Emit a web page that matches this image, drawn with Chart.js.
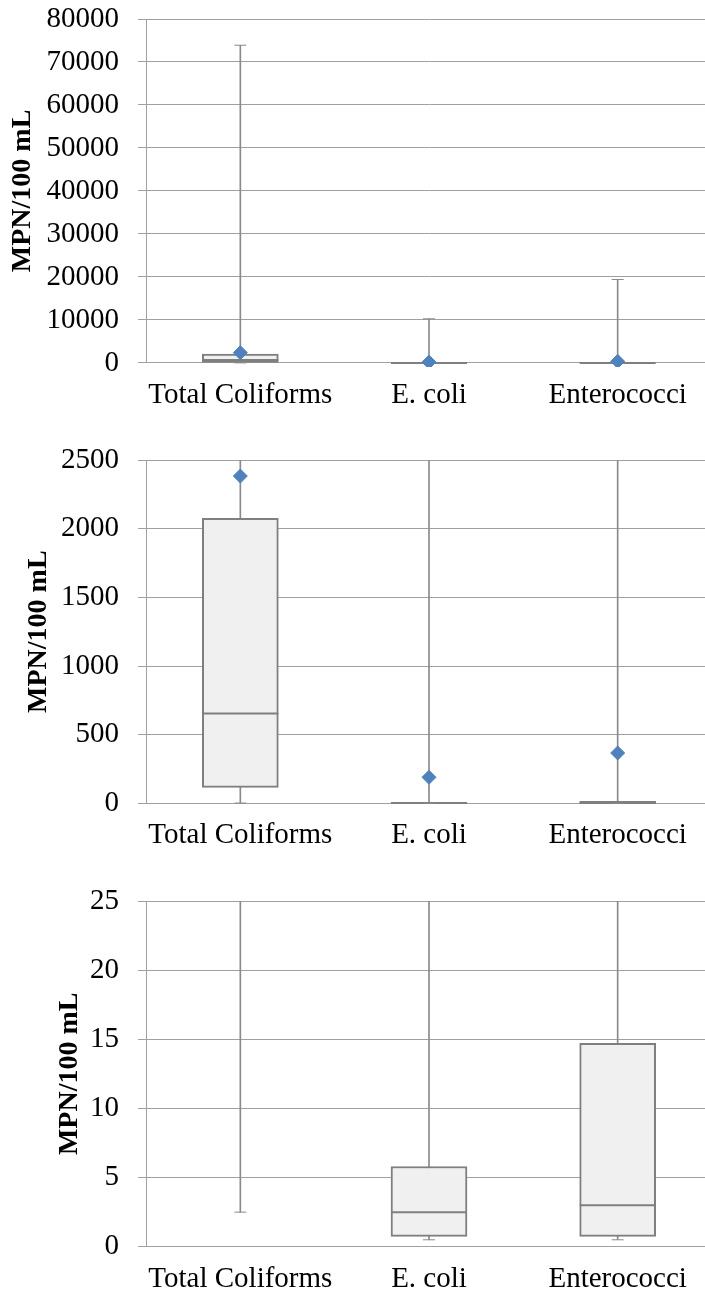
<!DOCTYPE html>
<html lang="en">
<head>
  <meta charset="UTF-8">
  <title>MPN/100 mL box plots</title>
  <style>
    html, body {
      margin: 0;
      padding: 0;
      background: #ffffff;
      overflow: hidden;
    }
    .panel {
      position: absolute;
      left: 0;
      width: 712px;
      height: 441px;
    }
  </style>
</head>
<body>
  <div class="panel" style="top:0px"><canvas id="chart0" width="712" height="441"></canvas></div>
  <div class="panel" style="top:441px"><canvas id="chart1" width="712" height="441"></canvas></div>
  <div class="panel" style="top:882px"><canvas id="chart2" width="712" height="441"></canvas></div>

  <script src="https://cdn.jsdelivr.net/npm/chart.js"></script>
  <script>
    // box plot values
    const categories = ['Total Coliforms', 'E. coli', 'Enterococci'];
    const minVals = [2.5, 0.5, 0.5];
    const q1Vals = [117, 0.75, 0.75];
    const medianVals = [655, 2.5, 3.0];
    const q3Vals = [2075, 5.8, 14.7];
    const maxVals = [73900, 10260, 19400];
    const meanVals = [2383, 190, 367];

    // same data shown at three zoom levels
    const yMaxes = [80000, 2500, 25];
    const ySteps = [10000, 500, 5];

    const AXIS_X = 146; // where the y axis line sits
    const serif = '"Liberation Serif", "Times New Roman", serif';

    Chart.defaults.font.family = serif;
    Chart.defaults.color = '#000';

    function drawPanel(canvasId, yMax, yStep, padLeft, padBottom) {
      const pointClip = { left: 40, right: 40, top: 0, bottom: 4 };

      new Chart(document.getElementById(canvasId), {
        type: 'bar',
        data: {
          labels: categories,
          datasets: [
            {
              // whisker from min to max
              data: categories.map((c, i) => [minVals[i], maxVals[i]]),
              backgroundColor: '#8a8a8a',
              barThickness: 1,
              grouped: false,
              order: 5,
              clip: 0
            },
            {
              // box q1..q3
              data: categories.map((c, i) => [q1Vals[i], q3Vals[i]]),
              backgroundColor: '#f0f0f0',
              borderColor: '#7f7f7f',
              borderWidth: 2,
              borderSkipped: false,
              barThickness: 76,
              grouped: false,
              order: 4,
              clip: 0
            },
            {
              type: 'line',
              data: medianVals,
              showLine: false,
              pointStyle: 'line',
              pointRadius: 38,
              pointBorderWidth: 2,
              borderColor: '#7f7f7f',
              order: 3,
              clip: pointClip
            },
            {
              type: 'line',
              data: minVals,
              showLine: false,
              pointStyle: 'line',
              pointRadius: 6,
              pointBorderWidth: 1,
              borderColor: '#8a8a8a',
              order: 2,
              clip: pointClip
            },
            {
              type: 'line',
              data: maxVals,
              showLine: false,
              pointStyle: 'line',
              pointRadius: 6,
              pointBorderWidth: 1,
              borderColor: '#8a8a8a',
              order: 2,
              clip: pointClip
            },
            {
              // mean
              type: 'line',
              data: meanVals,
              showLine: false,
              pointStyle: 'rectRot',
              pointRadius: 7,
              pointBorderWidth: 1,
              backgroundColor: '#4f81bd',
              borderColor: '#4f81bd',
              order: 1,
              clip: pointClip
            }
          ]
        },
        options: {
          responsive: false,
          animation: false,
          devicePixelRatio: 1,
          events: [],
          layout: {
            autoPadding: false,
            padding: { left: padLeft, right: 0, top: 19, bottom: padBottom }
          },
          plugins: {
            legend: { display: false },
            tooltip: { enabled: false }
          },
          scales: {
            x: {
              grid: { display: false, drawTicks: false },
              border: { display: false },
              ticks: {
                font: { size: 29 },
                padding: 15,
                maxRotation: 0,
                autoSkip: false
              }
            },
            y: {
              min: 0,
              max: yMax,
              afterFit: (scale) => {
                scale.width = AXIS_X - padLeft;
                scale.paddingTop = 0;
                scale.paddingBottom = 0;
              },
              grid: { color: '#a0a0a0', lineWidth: 1, tickLength: 8 },
              border: { display: true, color: '#a0a0a0', width: 1 },
              ticks: {
                stepSize: yStep,
                padding: 19,
                font: { size: 29 },
                callback: (v) => String(v)
              },
              title: {
                display: true,
                text: 'MPN/100 mL',
                padding: 0,
                font: { size: 28, weight: 'bold', lineHeight: 1 }
              }
            }
          }
        }
      });
    }

    drawPanel('chart0', yMaxes[0], ySteps[0], 9, 13.3);
    drawPanel('chart1', yMaxes[1], ySteps[1], 25, 13.8);
    drawPanel('chart2', yMaxes[2], ySteps[2], 56, 11.5);
  </script>
</body>
</html>
